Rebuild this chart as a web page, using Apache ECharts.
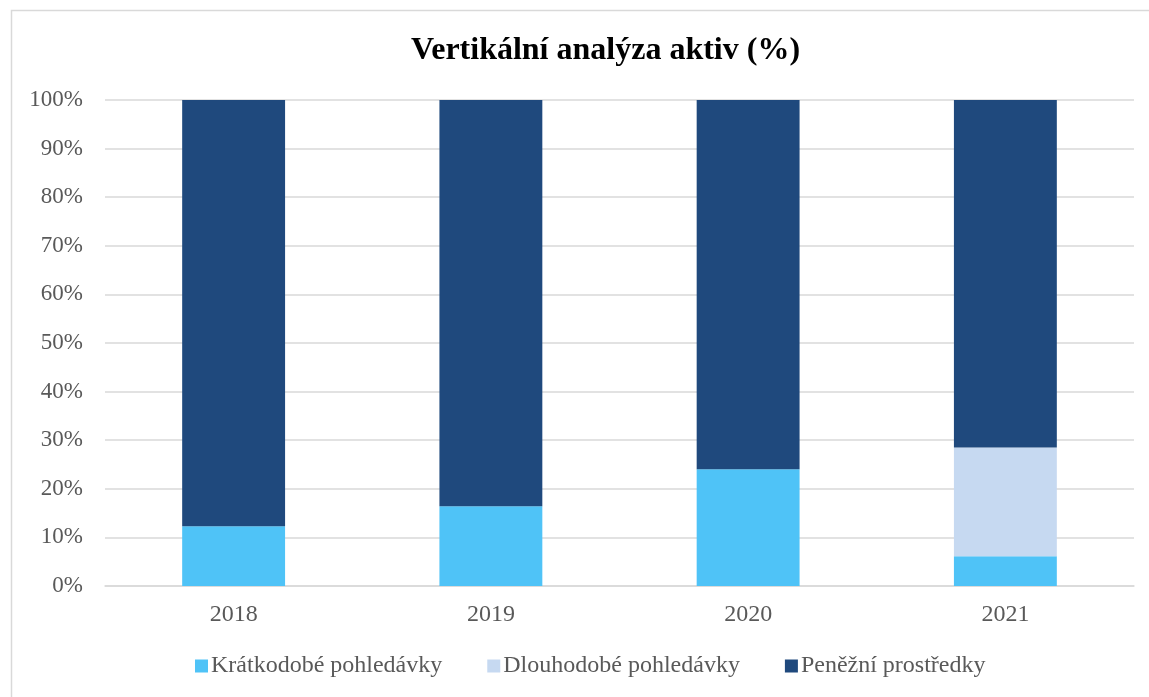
<!DOCTYPE html>
<html>
<head>
<meta charset="utf-8">
<script src="https://cdn.jsdelivr.net/npm/echarts@6/dist/echarts.min.js"></script>
<style>
  html, body { margin: 0; padding: 0; background: #fff; }
  #chart { width: 1149px; height: 697px; }
</style>
</head>
<body>
<div id="chart"></div>
<script>
var years = ['2018', '2019', '2020', '2021']
var kratkodobe = [12.3, 16.4, 24.0, 6.1]
var dlouhodobe = [0, 0, 0, 22.4]
var penezni = [87.7, 83.6, 76.0, 71.5]
var seriesNames = ['Krátkodobé pohledávky', 'Dlouhodobé pohledávky', 'Peněžní prostředky']

var font = '"Liberation Serif", "Times New Roman", serif'
var chart = echarts.init(document.getElementById('chart'))

chart.setOption({
  backgroundColor: '#fff',
  color: ['#4FC3F7', '#C6D9F1', '#1F497D'],
  animation: false,
  graphic: [{
    type: 'rect',
    shape: { x: 11.5, y: 10.5, width: 1200, height: 700 },
    style: { fill: 'none', stroke: '#d9d9d9', lineWidth: 1.5 },
    silent: true
  }],
  title: {
    text: 'Vertikální analýza aktiv (%)',
    left: 406,
    top: 30,
    textStyle: {
      fontFamily: font,
      fontWeight: 'bold',
      fontSize: 32,
      color: '#000'
    }
  },
  legend: {
    bottom: 14,
    left: 190,
    icon: 'rect',
    itemWidth: 13,
    itemHeight: 13,
    itemGap: 45,
    data: seriesNames,
    textStyle: {
      fontFamily: font,
      fontSize: 24,
      color: '#595959',
      padding: [0, 0, 0, -2]
    }
  },
  grid: {
    left: 105,
    right: 15,
    top: 100,
    bottom: 111,
    containLabel: false
  },
  xAxis: {
    type: 'category',
    data: years,
    axisTick: { show: false },
    axisLine: { lineStyle: { color: '#d9d9d9', width: 1.5 } },
    axisLabel: {
      fontFamily: font,
      fontSize: 24,
      color: '#595959',
      margin: 17
    }
  },
  yAxis: {
    type: 'value',
    min: 0,
    max: 100,
    interval: 10,
    axisLine: { show: false },
    axisTick: { show: false },
    splitLine: { lineStyle: { color: '#d9d9d9', width: 1.5 } },
    axisLabel: {
      formatter: '{value}%',
      fontFamily: font,
      fontSize: 23,
      color: '#595959',
      margin: 22
    }
  },
  series: [{
    name: seriesNames[0],
    type: 'bar',
    stack: 'total',
    barWidth: '40%',
    data: kratkodobe
  }, {
    name: seriesNames[1],
    type: 'bar',
    stack: 'total',
    data: dlouhodobe
  }, {
    name: seriesNames[2],
    type: 'bar',
    stack: 'total',
    data: penezni
  }]
})
</script>
</body>
</html>
